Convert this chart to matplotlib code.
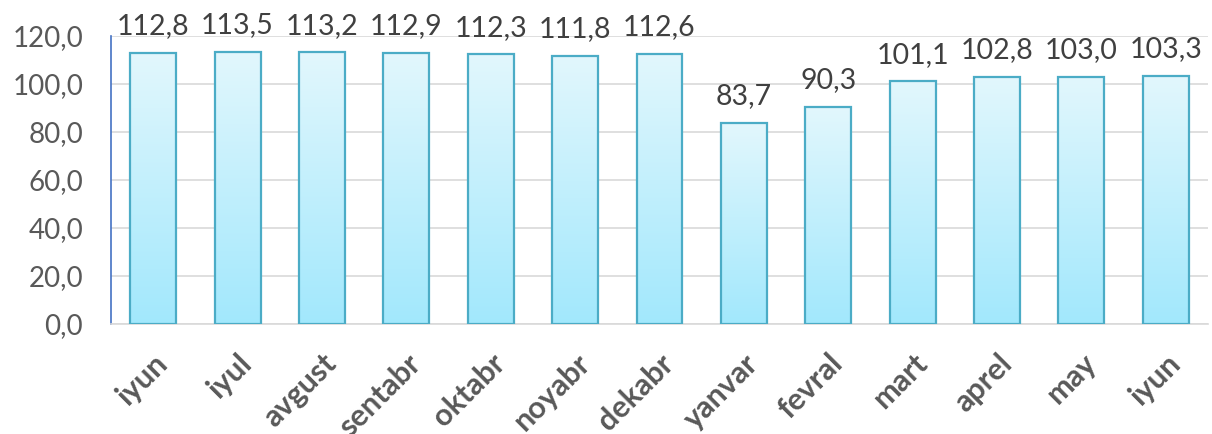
import matplotlib
matplotlib.use("Agg")
import matplotlib.pyplot as plt
import matplotlib.transforms as mtransforms
import numpy as np
from matplotlib.colors import LinearSegmentedColormap

months = ["iyun", "iyul", "avgust", "sentabr", "oktabr", "noyabr", "dekabr",
          "yanvar", "fevral", "mart", "aprel", "may", "iyun"]
values = [112.8, 113.5, 113.2, 112.9, 112.3, 111.8, 112.6,
          83.7, 90.3, 101.1, 102.8, 103.0, 103.3]
yticks = [0, 20, 40, 60, 80, 100, 120]

plt.rcParams['font.family'] = ['Lato', 'DejaVu Sans']

fig = plt.figure(figsize=(12.12, 4.34), dpi=100)
ax = fig.add_axes([111/1212, 1 - 324/434, (1208-111)/1212, (324-36)/434])

x = np.arange(len(months))
bw = 0.545
bars = ax.bar(x, values, width=bw, facecolor='none', edgecolor='#4BACC6',
              linewidth=1.6, zorder=3)

cmap = LinearSegmentedColormap.from_list('g', ['#A2E8FC', '#E2F7FD'])
grad = np.linspace(0, 1, 256).reshape(-1, 1)
for b in bars:
    x0, y0 = b.get_x(), b.get_y()
    w, h = b.get_width(), b.get_height()
    im = ax.imshow(grad, cmap=cmap, origin='lower', aspect='auto',
                   extent=[x0, x0 + w, y0, y0 + h], zorder=2)
    im.set_clip_path(b)

for xi, v in zip(x, values):
    ax.annotate(f"{v:.1f}".replace('.', ','), (xi, v), xytext=(0, 13.5),
                textcoords='offset points', ha='center', va='baseline',
                fontsize=20.5, color='#404040', zorder=4, clip_on=False)

ax.set_xlim(-0.5, len(months) - 0.5)
ax.set_ylim(0, 120)
ax.set_yticks(yticks)
ax.set_yticklabels([f"{t:.1f}".replace('.', ',') for t in yticks],
                   fontsize=20, color='#595959')
ax.set_xticks(x)
ax.set_xticklabels(months, rotation=45, ha='right', rotation_mode='anchor',
                   fontsize=22, fontweight='bold', color='#595959')
shift = mtransforms.ScaledTranslation(-7/100, -4/100, fig.dpi_scale_trans)
for lbl in ax.get_xticklabels():
    lbl.set_transform(lbl.get_transform() + shift)
ax.tick_params(axis='both', length=0)
ax.tick_params(axis='y', pad=20)
ax.tick_params(axis='x', pad=18)
ax.grid(axis='y', color='#D9D9D9', linewidth=1.2, zorder=0)
ax.set_axisbelow(True)
for s in ['top', 'right']:
    ax.spines[s].set_visible(False)
ax.spines['left'].set_color('#4472C4')
ax.spines['left'].set_linewidth(1.2)
ax.spines['bottom'].set_color('#D9D9D9')
ax.spines['bottom'].set_linewidth(1.2)

fig.savefig("out.png", dpi=100)
